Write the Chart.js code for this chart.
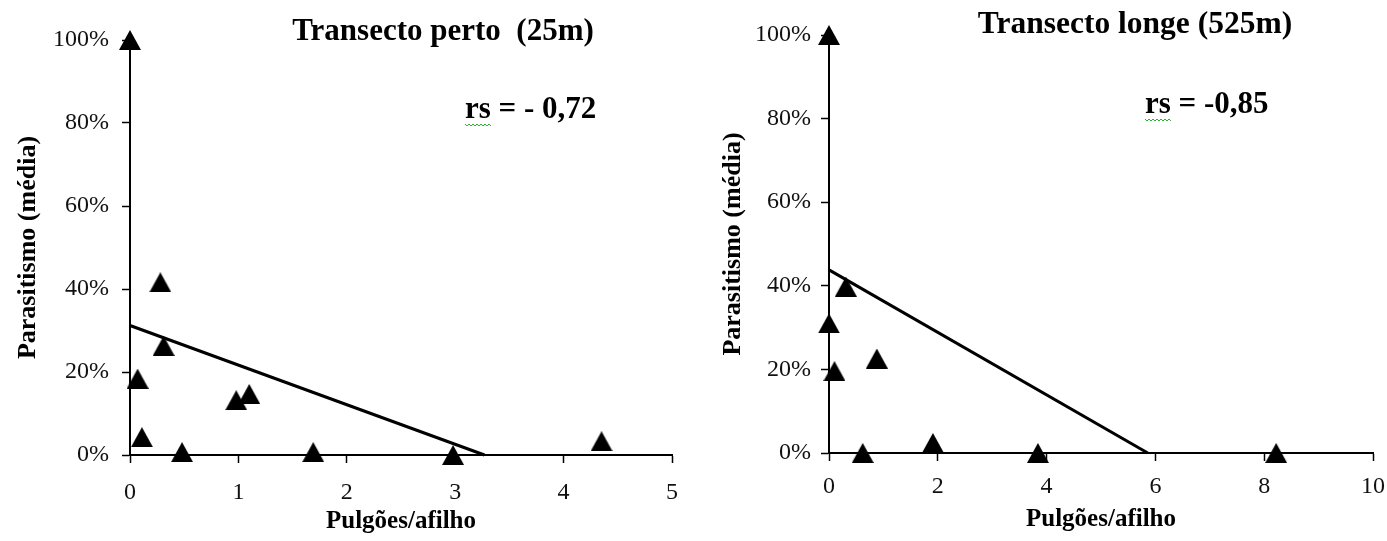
<!DOCTYPE html>
<html>
<head>
<meta charset="utf-8">
<script src="https://cdn.jsdelivr.net/npm/chart.js@4/dist/chart.umd.min.js"></script>
<style>
    html, body { margin: 0; padding: 0; background: #fff; overflow: hidden; }
    #wrap { position: relative; width: 1387px; height: 541px; }
    canvas { position: absolute; top: 0; }
    #nearChart { left: 0; }
    #farChart { left: 700px; }
</style>
</head>
<body>
<div id="wrap">
    <canvas id="nearChart" width="700" height="541"></canvas>
    <canvas id="farChart" width="687" height="541"></canvas>
</div>
<script>
// Transecto perto (25m)
var nearX = [0, 0.28, 0.31, 0.07, 0.11, 0.48, 0.98, 1.10, 1.69, 2.98, 4.35];
var nearY = [100, 41.6, 26.3, 18.4, 4.3, 0.7, 13.2, 14.7, 0.7, 0, 3.3];
var nearTrendX = [0, 3.27];
var nearTrendY = [31.2, 0];
var nearXTicks = [0, 1, 2, 3, 4, 5];

// Transecto longe (525m)
var farX = [0, 0.31, 0, 0.10, 0.88, 0.62, 1.91, 3.84, 8.22];
var farY = [100, 39.8, 31, 19.6, 22.6, 0, 2.4, 0, 0];
var farTrendX = [0, 5.86];
var farTrendY = [43.8, 0];
var farXTicks = [0, 2, 4, 6, 8, 10];

var yTicks = [0, 20, 40, 60, 80, 100];

var SERIF = '"Liberation Serif", "Times New Roman", serif';

(function () {
    function toPoints(xs, ys) {
        return xs.map(function (x, i) { return { x: x, y: ys[i] }; });
    }

    function makeTriangle(w, h) {
        var c = document.createElement('canvas');
        c.width = w;
        c.height = h;
        var g = c.getContext('2d');
        g.fillStyle = '#000';
        g.beginPath();
        g.moveTo(w / 2, 0);
        g.lineTo(w, h);
        g.lineTo(0, h);
        g.closePath();
        g.fill();
        return c;
    }

    var panelText = {
        id: 'panelText',
        afterDraw: function (chart, args, opts) {
            var ctx = chart.ctx;
            ctx.save();
            ctx.fillStyle = '#000';
            ctx.textBaseline = 'alphabetic';
            ctx.font = 'bold ' + opts.titleSize + 'px ' + SERIF;
            ctx.textAlign = 'center';
            ctx.fillText(opts.title, opts.titleX, opts.titleY);
            ctx.font = 'bold 31px ' + SERIF;
            ctx.textAlign = 'left';
            ctx.fillText(opts.rs, opts.rsX, opts.rsY);
            // spell-check squiggle under "rs"
            var w = ctx.measureText('rs').width;
            ctx.strokeStyle = '#2db32d';
            ctx.lineWidth = 1;
            ctx.beginPath();
            var y0 = opts.rsY + 6;
            for (var i = 0; i <= Math.round(w / 2); i++) {
                var px = opts.rsX + i * 2;
                var py = y0 + (i % 2 === 0 ? 0 : 2);
                if (i === 0) ctx.moveTo(px, py); else ctx.lineTo(px, py);
            }
            ctx.stroke();
            ctx.restore();
        }
    };

    function buildChart(canvasId, cfg) {
        var marker = makeTriangle(22, 20);
        return new Chart(document.getElementById(canvasId), {
            type: 'scatter',
            data: {
                datasets: [{
                    data: toPoints(cfg.xs, cfg.ys),
                    pointStyle: marker,
                    pointRadius: 11,
                    clip: false
                }, {
                    data: toPoints(cfg.trendX, cfg.trendY),
                    showLine: true,
                    pointRadius: 0,
                    borderColor: '#000',
                    borderWidth: 3,
                    clip: false
                }]
            },
            options: {
                responsive: false,
                animation: false,
                events: [],
                layout: { padding: { left: 0, top: cfg.top, right: cfg.right, bottom: 0 } },
                plugins: {
                    legend: { display: false },
                    tooltip: { enabled: false },
                    panelText: cfg.text
                },
                scales: {
                    x: {
                        type: 'linear',
                        min: cfg.xTicks[0],
                        max: cfg.xTicks[cfg.xTicks.length - 1],
                        afterBuildTicks: function (s) {
                            s.ticks = cfg.xTicks.map(function (v) { return { value: v }; });
                        },
                        afterFit: function (s) {
                            s.height = cfg.xHeight;
                            s.paddingLeft = 0;
                            s.paddingRight = 0;
                        },
                        border: { display: true, color: '#000', width: 2 },
                        grid: { drawOnChartArea: false, drawTicks: true, tickLength: 8, tickColor: '#000', tickWidth: 1.5 },
                        ticks: { color: '#111', padding: cfg.xPad, font: { family: SERIF, size: 24 } },
                        title: {
                            display: true,
                            text: 'Pulgões/afilho',
                            color: '#000',
                            font: { family: SERIF, size: 25, weight: 'bold' },
                            padding: { top: 0, bottom: cfg.xTitlePad }
                        }
                    },
                    y: {
                        min: 0,
                        max: 100,
                        afterBuildTicks: function (s) {
                            s.ticks = yTicks.map(function (v) { return { value: v }; });
                        },
                        afterFit: function (s) { s.width = cfg.yWidth; },
                        border: { display: true, color: '#000', width: 2 },
                        grid: { drawOnChartArea: false, drawTicks: true, tickLength: 8, tickColor: '#000', tickWidth: 1.5 },
                        ticks: {
                            color: '#111',
                            padding: cfg.yPad,
                            font: { family: SERIF, size: 24 },
                            callback: function (v) { return v + '%'; }
                        },
                        title: {
                            display: true,
                            text: 'Parasitismo (média)',
                            color: '#000',
                            font: { family: SERIF, size: 26, weight: 'bold' },
                            padding: { top: cfg.yTitlePad, bottom: 0 }
                        }
                    }
                }
            },
            plugins: [panelText]
        });
    }

    buildChart('nearChart', {
        xs: nearX, ys: nearY, trendX: nearTrendX, trendY: nearTrendY, xTicks: nearXTicks,
        top: 40, right: 28, xHeight: 86, yWidth: 130,
        xPad: 15, yPad: 13, xTitlePad: 4, yTitlePad: 13,
        text: { title: 'Transecto perto  (25m)', titleSize: 31, titleX: 443, titleY: 40, rs: 'rs = - 0,72', rsX: 465, rsY: 118 }
    });

    buildChart('farChart', {
        xs: farX, ys: farY, trendX: farTrendX, trendY: farTrendY, xTicks: farXTicks,
        top: 35, right: 14, xHeight: 88, yWidth: 129,
        xPad: 11, yPad: 10, xTitlePad: 6, yTitlePad: 18,
        text: { title: 'Transecto longe (525m)', titleSize: 31.5, titleX: 435, titleY: 33, rs: 'rs = -0,85', rsX: 445, rsY: 113 }
    });
})();
</script>
</body>
</html>
